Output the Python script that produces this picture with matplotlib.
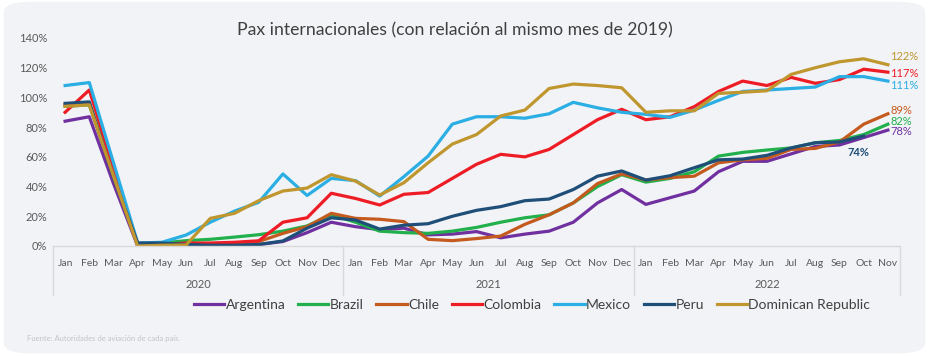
import matplotlib
matplotlib.use("Agg")
import matplotlib.pyplot as plt
from matplotlib.patches import FancyBboxPatch
import matplotlib.transforms as mtransforms

months = ["Jan", "Feb", "Mar", "Apr", "May", "Jun", "Jul", "Aug", "Sep", "Oct", "Nov", "Dec"]
month_labels = months * 2 + months[:11]
years = ["2020", "2021", "2022"]

argentina = [84, 87, 42, 0, 0.5, 0.5, 0.5, 0.5, 1, 3, 9, 16,
             13, 11, 12, 7.5, 8, 9.7, 5.5, 8, 10, 16, 29, 38,
             28, 32.5, 37, 50, 57, 57, 62, 67, 68, 73, 78]
brazil = [94, 95, 48, 1, 2, 3.6, 4.5, 6, 7.6, 10, 13.5, 21,
          16, 10, 9, 8.5, 10, 12.5, 16, 19, 21, 29, 40, 48,
          43, 45.5, 50, 60.5, 63, 64.6, 66, 69.5, 71, 75, 82]
chile = [95, 96, 48, 0, 0.5, 1, 1.5, 2, 3, 8.5, 13, 22,
         18.6, 18, 16.4, 4.5, 3.6, 5, 6.7, 14.6, 21, 29, 42, 48.5,
         44.4, 46, 47, 56, 58, 59, 65, 65.7, 70, 82, 89]
colombia = [90, 105, 52, 1, 1, 2, 2, 2.5, 3.5, 16, 19, 35.5,
            32, 27.6, 34.8, 36, 45.5, 55, 61.7, 60, 65, 75, 85, 92,
            85, 87, 93.8, 104, 111, 108, 113.5, 109.5, 112, 119, 117]
mexico = [108, 110, 56, 2, 2.5, 7.4, 16, 23.5, 29.4, 48.5, 34, 45.5,
          44, 33.6, 46.7, 60.5, 82, 87, 87, 86, 89, 96.7, 93, 90,
          88.6, 86.6, 91.5, 98, 104, 105, 106, 107, 114, 114, 111]
peru = [96, 97, 46, 2, 2, 1, 0.5, 0.5, 1, 3.4, 12, 19,
        17.5, 11.4, 14, 15, 20, 24, 26.5, 30.5, 31.6, 38, 47, 50.5,
        44.4, 47.3, 52.7, 58, 58.5, 61, 66, 69.5, 70, 74]
dominican = [94, 95, 47, 0, 0.5, 0.7, 18.6, 22, 30.5, 37, 39, 48,
             43.7, 34.3, 42.6, 56, 68.6, 75, 87.5, 91.5, 106, 109, 108, 106.5,
             90, 91, 91, 102.7, 103.5, 104.5, 115.5, 120, 124, 126, 122]

series = [
    ("Argentina", argentina, "#7030A0"),
    ("Brazil", brazil, "#21B04B"),
    ("Chile", chile, "#C55A1E"),
    ("Colombia", colombia, "#EE1D25"),
    ("Mexico", mexico, "#2AAEE3"),
    ("Peru", peru, "#1F4E79"),
    ("Dominican Republic", dominican, "#C0962F"),
]

plt.rcParams['font.family'] = ['Lato', 'DejaVu Sans']

W, H = 929, 357
fig = plt.figure(figsize=(W / 100, H / 100), dpi=100)
fig.patch.set_facecolor("white")
card = FancyBboxPatch((0.004, 0.01), 0.992, 0.985, boxstyle="round,pad=0,rounding_size=0.03",
                      transform=fig.transFigure, facecolor="#F1F3F6", edgecolor="none", zorder=-10)
fig.patches.append(card)

left, right = 53 / W, 900 / W
bottom, top = 1 - 246 / H, 1 - 38 / H
ax = fig.add_axes([left, bottom, right - left, top - bottom])
ax.set_facecolor("none")

n = len(month_labels)
for name, vals, col in series:
    ax.plot(range(len(vals)), vals, color=col, lw=2.3, label=name, solid_joinstyle="round")

ax.set_xlim(-0.5, n - 0.5)
ax.set_ylim(0, 140)
ax.set_yticks(range(0, 141, 20))
ax.set_yticklabels([f"{v}%" for v in range(0, 141, 20)], fontsize=8, color="#595959")
ax.set_xticks(range(n))
ax.set_xticklabels(month_labels, fontsize=7.5, color="#595959")
ax.tick_params(axis="both", length=0, pad=4)
ax.tick_params(axis="x", pad=9)
for s in ["top", "right", "left"]:
    ax.spines[s].set_visible(False)
ax.spines["bottom"].set_color("#D9D9D9")
ax.spines["bottom"].set_linewidth(1)

# multi-level axis separators and year labels
trans = mtransforms.blended_transform_factory(ax.transData, ax.transAxes)
sep_bottom = -(295 - 246) / (246 - 38)
for xb in [-0.5, 11.5, 23.5, n - 0.5]:
    ax.plot([xb, xb], [0, sep_bottom], transform=trans, color="#D9D9D9", lw=1, clip_on=False)
year_y = -(285 - 246) / (246 - 38)
for yr, x0, x1 in zip(years, [-0.5, 11.5, 23.5], [11.5, 23.5, n - 0.5]):
    ax.text((x0 + x1) / 2, year_y, yr, transform=trans, ha="center", va="center",
            fontsize=8, color="#595959")

# end labels (text placed just right of the final point, nudged vertically to avoid clashes)
end_labels = [
    (dominican, "122%", "#C0962F", 127.5),
    (colombia, "117%", "#EE1D25", 116.0),
    (mexico, "111%", "#2AAEE3", 108.0),
    (chile, "89%", "#C55A1E", 91.0),
    (brazil, "82%", "#21B04B", 84.0),
    (argentina, "78%", "#7030A0", 77.0),
]
for vals, txt, col, ty in end_labels:
    xi = len(vals) - 1
    ax.annotate(txt, (xi, vals[-1]), xytext=(xi + 0.1, ty), textcoords="data",
                ha="left", va="center", fontsize=8, color=col, annotation_clip=False)
ax.annotate("74%", (len(peru) - 1, peru[-1]), xytext=(-4, -12), textcoords="offset points",
            ha="center", va="center", fontsize=8, color="#1F4E79", fontweight="bold")

fig.text(455 / W, 1 - 30 / H, "Pax internacionales (con relación al mismo mes de 2019)",
         ha="center", va="center", fontsize=12.7, color="#404040")

leg = fig.legend(loc="center", bbox_to_anchor=(532 / W, 1 - 305 / H), ncol=7, frameon=False,
                 fontsize=10, handlelength=2.2, handletextpad=0.1, columnspacing=0.9,
                 labelcolor="#404040")

fig.text(27 / W, 1 - 339 / H, "Fuente: Autoridades de aviación de cada país.", ha="left",
         va="center", fontsize=5.5, color="#C0C4CA")

fig.savefig("out.png", dpi=100, facecolor=fig.get_facecolor())
